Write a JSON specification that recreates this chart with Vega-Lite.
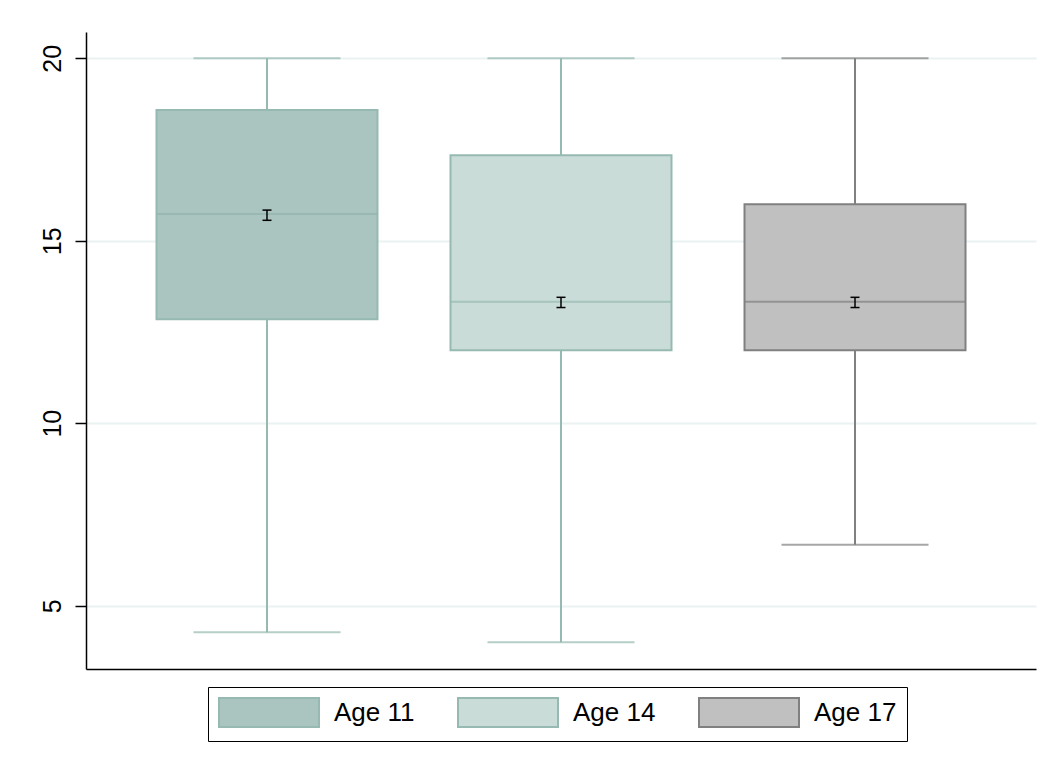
{
  "$schema": "https://vega.github.io/schema/vega-lite/v6.json",
  "autosize": "none",
  "width": 950,
  "height": 637,
  "padding": {"left": 86, "top": 32, "right": 18, "bottom": 100},
  "background": "white",
  "config": {
    "view": {"stroke": null},
    "font": "Liberation Sans"
  },
  "data": {
    "values": [
      {"group": "Age 11", "lo": 4.27, "q1": 12.85, "med": 15.73, "q3": 18.58, "hi": 20, "mean": 15.7, "mlo": 15.56, "mhi": 15.84},
      {"group": "Age 14", "lo": 4.0, "q1": 12.0, "med": 13.33, "q3": 17.34, "hi": 20, "mean": 13.31, "mlo": 13.17, "mhi": 13.45},
      {"group": "Age 17", "lo": 6.67, "q1": 12.0, "med": 13.33, "q3": 16.0, "hi": 20, "mean": 13.31, "mlo": 13.17, "mhi": 13.45}
    ]
  },
  "encoding": {
    "x": {
      "field": "group", "type": "nominal",
      "scale": {"type": "band", "paddingInner": 0, "paddingOuter": 0.1156},
      "axis": {"title": null, "labels": false, "ticks": false, "domain": true, "domainColor": "black", "domainWidth": 1.5, "grid": false}
    }
  },
  "layer": [
    {
      "mark": {"type": "rule", "strokeWidth": 2},
      "encoding": {
        "y": {
          "field": "lo", "type": "quantitative",
          "scale": {"domain": [3.265, 20.72], "nice": false, "zero": false},
          "axis": {
            "title": null, "values": [5, 10, 15, 20],
            "labelAngle": -90, "labelFontSize": 25, "labelColor": "black",
            "labelPadding": 10, "labelAlign": "center", "labelBaseline": "bottom",
            "tickSize": 11, "tickColor": "black", "tickWidth": 1.5,
            "domainColor": "black", "domainWidth": 1.5,
            "grid": true, "gridColor": "#eaf2f2", "gridWidth": 2
          }
        },
        "y2": {"field": "hi"},
        "color": {
          "field": "group", "type": "nominal",
          "scale": {"domain": ["Age 11", "Age 14", "Age 17"], "range": ["#96b9b1", "#96b9b1", "#808080"]},
          "legend": null
        }
      }
    },
    {
      "mark": {"type": "bar", "size": 221, "strokeWidth": 2, "opacity": 1},
      "encoding": {
        "y": {"field": "q1", "type": "quantitative"},
        "y2": {"field": "q3"},
        "fill": {
          "field": "group", "type": "nominal",
          "scale": {"domain": ["Age 11", "Age 14", "Age 17"], "range": ["#aac4bf", "#cadcd8", "#c0c0c0"]},
          "legend": {
            "title": null, "orient": "none", "legendX": 122, "legendY": 655,
            "direction": "horizontal", "columns": 3,
            "symbolType": "M-1,-1H5.897V1H-1Z", "symbolSize": 841,
            "symbolStrokeWidth": 2, "symbolOpacity": 1,
            "labelFontSize": 26, "labelColor": "black", "labelOffset": 85,
            "columnPadding": 39,
            "padding": 10, "strokeColor": "black", "fillColor": "white"
          }
        },
        "stroke": {
          "field": "group", "type": "nominal",
          "scale": {"domain": ["Age 11", "Age 14", "Age 17"], "range": ["#96b9b1", "#96b9b1", "#808080"]},
          "legend": null
        }
      }
    },
    {
      "mark": {"type": "tick", "size": 221, "thickness": 2, "orient": "horizontal"},
      "encoding": {
        "y": {"field": "med", "type": "quantitative"},
        "color": {
          "field": "group", "type": "nominal",
          "scale": {"domain": ["Age 11", "Age 14", "Age 17"], "range": ["#92b3ac", "#96b9b1", "#808080"]},
          "legend": null
        }
      }
    },
    {
      "mark": {"type": "tick", "size": 147, "thickness": 2, "orient": "horizontal"},
      "encoding": {
        "y": {"field": "hi", "type": "quantitative"},
        "color": {
          "field": "group", "type": "nominal",
          "scale": {"domain": ["Age 11", "Age 14", "Age 17"], "range": ["#96b9b1", "#96b9b1", "#808080"]},
          "legend": null
        }
      }
    },
    {
      "mark": {"type": "tick", "size": 147, "thickness": 2, "orient": "horizontal"},
      "encoding": {
        "y": {"field": "lo", "type": "quantitative"},
        "color": {
          "field": "group", "type": "nominal",
          "scale": {"domain": ["Age 11", "Age 14", "Age 17"], "range": ["#96b9b1", "#96b9b1", "#808080"]},
          "legend": null
        }
      }
    },
    {
      "mark": {"type": "rule", "color": "black", "strokeWidth": 1.5},
      "encoding": {
        "y": {"field": "mlo", "type": "quantitative"},
        "y2": {"field": "mhi"}
      }
    },
    {
      "mark": {"type": "tick", "size": 9, "thickness": 1.5, "color": "black", "orient": "horizontal", "opacity": 1},
      "encoding": {
        "y": {"field": "mlo", "type": "quantitative"}
      }
    },
    {
      "mark": {"type": "tick", "size": 9, "thickness": 1.5, "color": "black", "orient": "horizontal", "opacity": 1},
      "encoding": {
        "y": {"field": "mhi", "type": "quantitative"}
      }
    }
  ],
  "resolve": {"scale": {"color": "independent"}}
}
